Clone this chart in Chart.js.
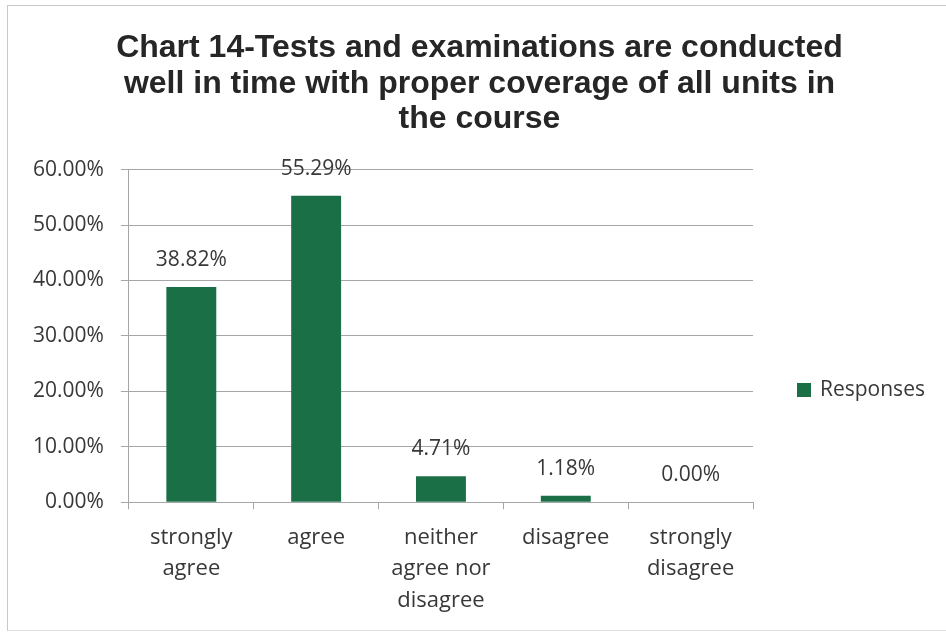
<!DOCTYPE html>
<html>
<head>
<meta charset="utf-8">
<script src="https://cdn.jsdelivr.net/npm/chart.js@4/dist/chart.umd.min.js"></script>
<style>
  html, body { margin: 0; padding: 0; background: #ffffff; }
  #wrap { position: relative; width: 946px; height: 634px; }
  #frame { position: absolute; left: 7px; top: 5px; width: 945px; height: 626px; border-left: 1px solid #c8c8c8; border-top: 1px solid #c8c8c8; border-bottom: 1px solid #e0e0e0; box-sizing: border-box; }
  canvas { position: absolute; left: 0; top: 0; }
</style>
</head>
<body>
<div id="wrap">
  <div id="frame"></div>
  <canvas id="c" width="946" height="634"></canvas>
</div>
<script>
const titleLines = [
  "Chart 14-Tests and examinations are conducted",
  "well in time with proper coverage of all units in",
  "the course"
];
const categories = [
  ["strongly", "agree"],
  "agree",
  ["neither", "agree nor", "disagree"],
  "disagree",
  ["strongly", "disagree"]
];
const seriesName = "Responses";
const responses = [38.82, 55.29, 4.71, 1.18, 0.00];
const yTickMin = 0;
const yTickMax = 60;
const yTickStep = 10;

const barColor = "#1b6f46";
const textColor = "#383838";
const bodyFont = "'Open Sans', Lato, sans-serif";

const valueLabels = {
  id: "valueLabels",
  afterDatasetsDraw(chart) {
    const ctx = chart.ctx;
    const meta = chart.getDatasetMeta(0);
    ctx.save();
    ctx.fillStyle = textColor;
    ctx.font = "21px " + bodyFont;
    ctx.textAlign = "center";
    ctx.textBaseline = "middle";
    meta.data.forEach((bar, i) => {
      const v = chart.data.datasets[0].data[i];
      ctx.fillText(v.toFixed(2) + "%", bar.x, bar.y - 27);
    });
    ctx.restore();
  }
};

const sideLegend = {
  id: "sideLegend",
  afterDraw(chart) {
    const ctx = chart.ctx;
    const ds = chart.data.datasets[0];
    const area = chart.chartArea;
    const x = area.right + 44;
    const y = 390;
    ctx.save();
    ctx.fillStyle = ds.backgroundColor;
    ctx.fillRect(x, y - 7, 14, 14);
    ctx.fillStyle = textColor;
    ctx.font = "21px " + bodyFont;
    ctx.textAlign = "left";
    ctx.textBaseline = "middle";
    ctx.fillText(ds.label, x + 23, y);
    ctx.restore();
  }
};

new Chart(document.getElementById("c"), {
  type: "bar",
  data: {
    labels: categories,
    datasets: [{
      label: seriesName,
      data: responses,
      backgroundColor: barColor,
      borderWidth: 0,
      barPercentage: 0.4,
      categoryPercentage: 1.0,
      yAxisID: "y"
    }]
  },
  options: {
    responsive: false,
    animation: false,
    devicePixelRatio: 1,
    layout: { padding: { left: 16, right: 3, top: 8, bottom: 5 } },
    plugins: {
      title: {
        display: true,
        text: titleLines,
        color: "#262626",
        font: { family: "'Liberation Sans', Arial, sans-serif", size: 32, weight: "bold", lineHeight: 1.1 },
        padding: { top: 23, bottom: 33 }
      },
      legend: { display: false },
      tooltip: { enabled: false }
    },
    scales: {
      x: {
        grid: {
          display: true,
          drawOnChartArea: false,
          drawTicks: true,
          tickLength: 7,
          color: "#a6a6a6",
          offset: true
        },
        border: { display: true, color: "#a6a6a6", width: 1 },
        ticks: {
          color: textColor,
          font: { family: bodyFont, size: 22, lineHeight: 1.45 },
          maxRotation: 0,
          autoSkip: false,
          padding: 12
        }
      },
      y: {
        min: yTickMin,
        max: yTickMax,
        grid: {
          color: "#a6a6a6",
          lineWidth: 1,
          tickLength: 8
        },
        border: { display: true, color: "#a6a6a6", width: 1 },
        ticks: {
          stepSize: yTickStep,
          color: textColor,
          font: { family: bodyFont, size: 21 },
          padding: 17,
          callback: (v) => Number(v).toFixed(2) + "%"
        }
      },
      legendSpace: {
        type: "linear",
        position: "right",
        display: true,
        grid: { display: false, drawTicks: false },
        border: { display: false },
        ticks: { display: false },
        afterFit(scale) { scale.width = 190; }
      }
    }
  },
  plugins: [valueLabels, sideLegend]
});
</script>
</body>
</html>
